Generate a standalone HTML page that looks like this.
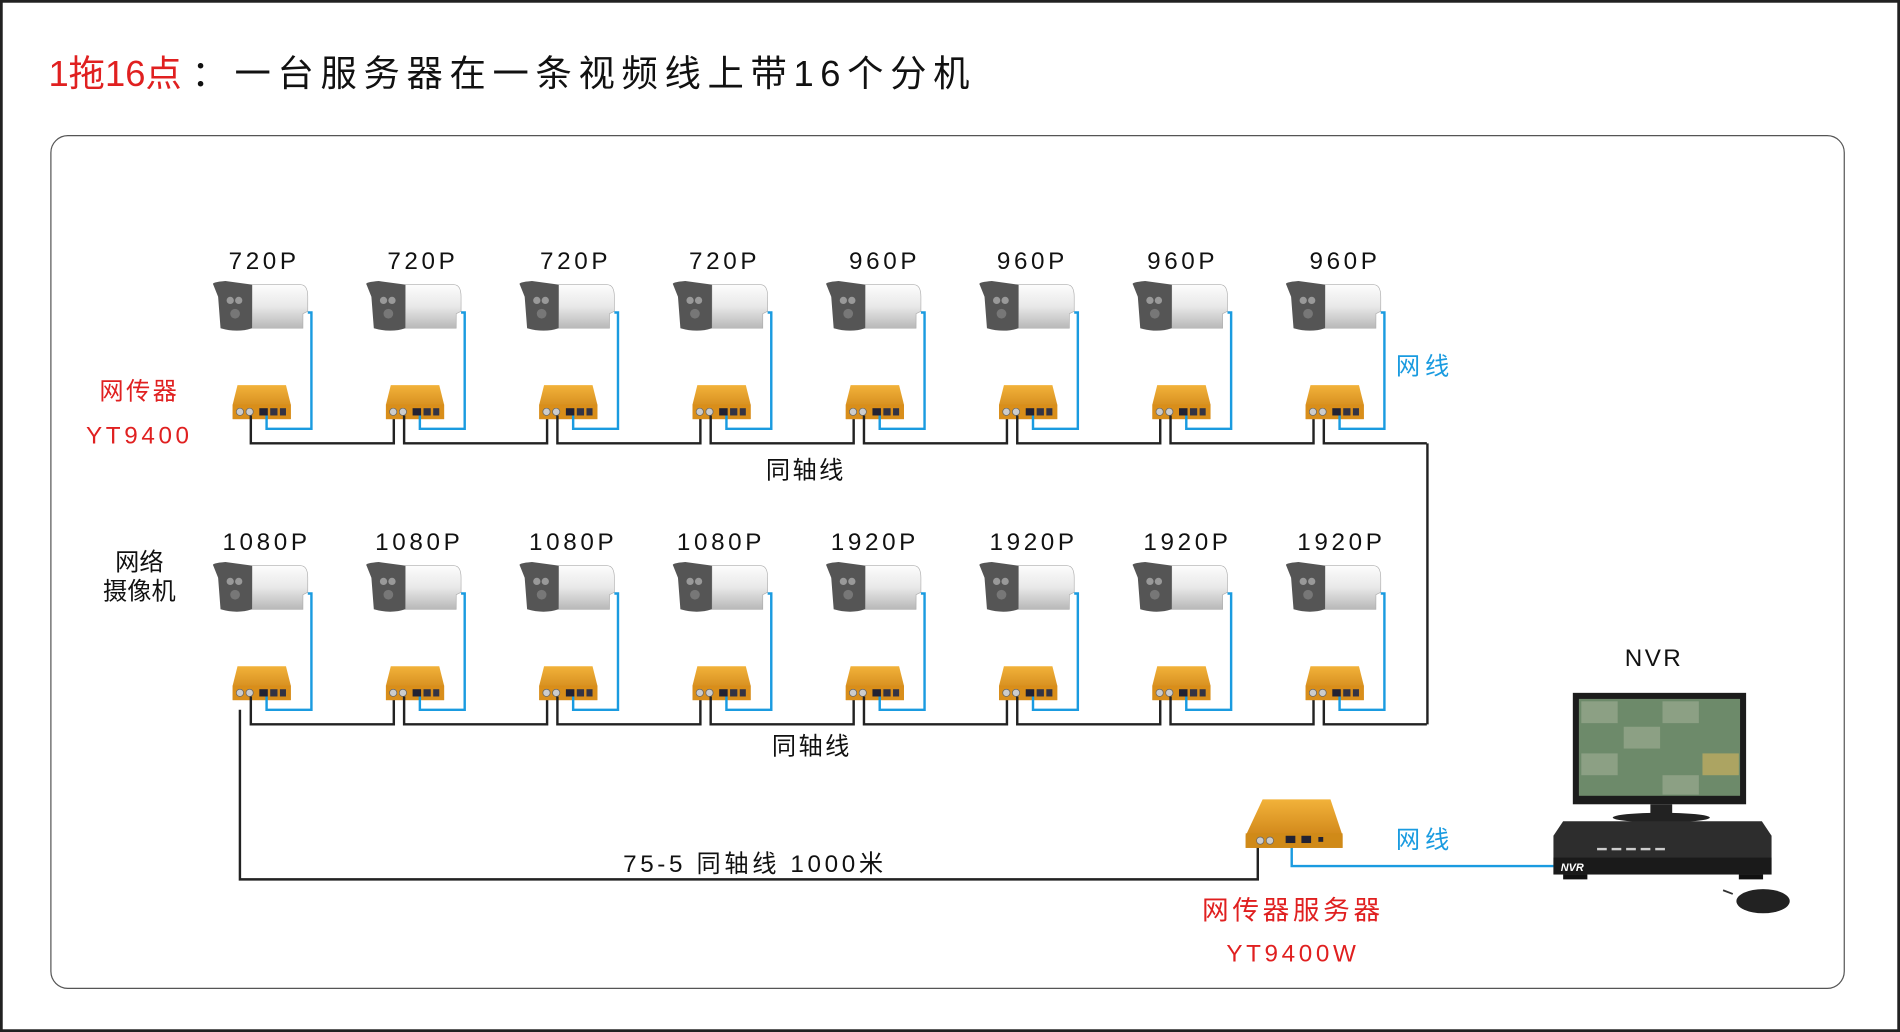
<!DOCTYPE html>
<html><head><meta charset="utf-8"><style>
html,body{margin:0;padding:0;background:#fff;}
svg{display:block;}
text{font-family:"Liberation Sans","Noto Sans CJK SC",sans-serif;}
</style></head><body>
<svg width="1900" height="1032" viewBox="0 0 1568 852" preserveAspectRatio="none" xmlns="http://www.w3.org/2000/svg">
<defs>
<linearGradient id="cam" x1="0" y1="0" x2="0" y2="1"><stop offset="0" stop-color="#fdfdfd"/><stop offset="0.5" stop-color="#e8e8e8"/><stop offset="1" stop-color="#b8b8b8"/></linearGradient>
<linearGradient id="gold" x1="0" y1="0" x2="0" y2="1"><stop offset="0" stop-color="#f2b23a"/><stop offset="1" stop-color="#c67a10"/></linearGradient>
<g id="camera">
<path d="M-8,-20 L32,-20 Q38,-20 38,-10 L38,2 L34,4 L34,16 L-8,16 Z" fill="url(#cam)" stroke="#aaa" stroke-width="0.5"/>
<path d="M-40,-20 Q-42,-22 -30,-23 L-8,-20 L-8,16 Q-20,20 -34,16 L-36,-10 Z" fill="#555"/>
<circle cx="-26" cy="-7" r="3" fill="#999"/><circle cx="-19" cy="-7" r="3" fill="#999"/><circle cx="-22" cy="4" r="4" fill="#777"/>
</g>
<g id="box">
<path d="M-20,-18 L20,-18 L24,-2 L24,10 L-24,10 L-24,-2 Z" fill="url(#gold)"/>
<rect x="-24" y="-2" width="48" height="12" fill="#d98e1a"/>
<circle cx="-18" cy="4" r="3" fill="#ccc" stroke="#666" stroke-width="0.6"/><circle cx="-10" cy="4" r="3" fill="#ccc" stroke="#666" stroke-width="0.6"/>
<rect x="-2" y="1" width="7" height="6" fill="#223"/><rect x="7" y="1" width="6" height="6" fill="#334"/><rect x="15" y="1" width="5" height="6" fill="#334"/>
</g>
</defs>
<rect x="1" y="1" width="1566" height="850" fill="#fff" stroke="#222" stroke-width="2.5"/>
<text x="40" y="71" font-size="30" fill="#e02020">1拖16点</text>
<text x="158" y="71" font-size="30" fill="#111" letter-spacing="5.5">：一台服务器在一条视频线上带16个分机</text>
<rect x="42" y="112" width="1480" height="704" rx="14" fill="none" stroke="#555" stroke-width="1"/>

<g font-size="20" fill="#111" text-anchor="middle" letter-spacing="3">
<text x="218" y="222">720P</text><text x="349" y="222">720P</text><text x="475" y="222">720P</text><text x="598" y="222">720P</text>
<text x="730" y="222">960P</text><text x="852" y="222">960P</text><text x="976" y="222">960P</text><text x="1110" y="222">960P</text>
<text x="220" y="454">1080P</text><text x="346" y="454">1080P</text><text x="473" y="454">1080P</text><text x="595" y="454">1080P</text>
<text x="722" y="454">1920P</text><text x="853" y="454">1920P</text><text x="980" y="454">1920P</text><text x="1107" y="454">1920P</text>
</g>

<g fill="none" stroke-width="2">
<path d="M1178,366 L1178,598" stroke="#222"/>
<path d="M198,586 L198,726 L1038,726 L1038,697" stroke="#222"/>
<path d="M1066,697 L1066,715 L1282,715" stroke="#1a9be0"/>
</g>

<g id="r1">
<g transform="translate(216,255)"><use href="#camera"/></g>
<g transform="translate(216,336)"><use href="#box"/></g>
<path d="M254,258 L257,258 L257,354 L220,354 L220,343" fill="none" stroke="#1a9be0" stroke-width="2"/>
<path d="M207,343 L207,366 L325,366 L325,343" fill="none" stroke="#222" stroke-width="2"/>
</g>
<g transform="translate(126.5,0)"><use href="#r1"/></g>
<g transform="translate(253,0)"><use href="#r1"/></g>
<g transform="translate(379.5,0)"><use href="#r1"/></g>
<g transform="translate(506,0)"><use href="#r1"/></g>
<g transform="translate(632.5,0)"><use href="#r1"/></g>
<g transform="translate(759,0)"><use href="#r1"/></g>
<g transform="translate(885.5,0)"><path d="M207,343 L207,366 L292,366" fill="none" stroke="#222" stroke-width="2"/>
<g transform="translate(216,255)"><use href="#camera"/></g>
<g transform="translate(216,336)"><use href="#box"/></g>
<path d="M254,258 L257,258 L257,354 L220,354 L220,343" fill="none" stroke="#1a9be0" stroke-width="2"/></g>

<g transform="translate(0,232)"><use href="#r1"/></g>
<g transform="translate(126.5,232)"><use href="#r1"/></g>
<g transform="translate(253,232)"><use href="#r1"/></g>
<g transform="translate(379.5,232)"><use href="#r1"/></g>
<g transform="translate(506,232)"><use href="#r1"/></g>
<g transform="translate(632.5,232)"><use href="#r1"/></g>
<g transform="translate(759,232)"><use href="#r1"/></g>
<g transform="translate(885.5,232)"><path d="M207,343 L207,366 L292,366" fill="none" stroke="#222" stroke-width="2"/>
<g transform="translate(216,255)"><use href="#camera"/></g>
<g transform="translate(216,336)"><use href="#box"/></g>
<path d="M254,258 L257,258 L257,354 L220,354 L220,343" fill="none" stroke="#1a9be0" stroke-width="2"/></g>

<g font-size="20" text-anchor="middle">
<text x="115" y="330" fill="#e02020" letter-spacing="2">网传器</text>
<text x="115" y="366" fill="#e02020" letter-spacing="3">YT9400</text>
<text x="115" y="471" fill="#111">网络</text>
<text x="115" y="495" fill="#111">摄像机</text>
<text x="1176" y="309" fill="#1a9be0" letter-spacing="4">网线</text>
<text x="665" y="395" fill="#111" letter-spacing="2">同轴线</text>
<text x="670" y="623" fill="#111" letter-spacing="2">同轴线</text>
<text x="623" y="720" fill="#111" letter-spacing="3">75-5 同轴线 1000米</text>
<text x="1176" y="700" fill="#1a9be0" letter-spacing="4">网线</text>
<text x="1365" y="550" fill="#111" letter-spacing="2">NVR</text>
<text x="1067" y="759" fill="#e02020" font-size="22" letter-spacing="3">网传器服务器</text>
<text x="1067" y="794" fill="#e02020" letter-spacing="3">YT9400W</text>
</g>

<!-- server -->
<path d="M1042,660 L1098,660 L1108,690 L1108,700 L1028,700 L1028,690 Z" fill="url(#gold)"/>
<rect x="1028" y="688" width="80" height="12" fill="#d08a18"/>
<circle cx="1040" cy="694" r="3" fill="#ccc" stroke="#666" stroke-width="0.6"/><circle cx="1048" cy="694" r="3" fill="#ccc" stroke="#666" stroke-width="0.6"/>
<rect x="1061" y="690" width="8" height="6" fill="#223"/><rect x="1074" y="690" width="8" height="6" fill="#223"/><rect x="1088" y="691" width="4" height="4" fill="#223"/>

<!-- NVR -->
<rect x="1298" y="572" width="143" height="92" fill="#1c1c1c"/>
<rect x="1303" y="577" width="133" height="80" fill="#6d8a6a"/>
<g fill="#9aaa90" opacity="0.7"><rect x="1305" y="579" width="30" height="18"/><rect x="1372" y="579" width="30" height="18"/><rect x="1340" y="600" width="30" height="18"/><rect x="1405" y="622" width="30" height="18" fill="#c8b060"/><rect x="1305" y="622" width="30" height="18"/><rect x="1372" y="640" width="30" height="16"/></g>
<rect x="1362" y="664" width="18" height="10" fill="#222"/>
<ellipse cx="1371" cy="675" rx="40" ry="4" fill="#222"/>
<path d="M1290,678 L1454,678 L1462,690 L1462,722 L1282,722 L1282,690 Z" fill="#2d2d2d"/>
<rect x="1282" y="708" width="180" height="14" fill="#1a1a1a"/>
<text x="1288" y="719" font-size="9" font-style="italic" font-weight="bold" fill="#fff">NVR</text>
<g fill="#ccc"><rect x="1318" y="700" width="8" height="2"/><rect x="1330" y="700" width="8" height="2"/><rect x="1342" y="700" width="8" height="2"/><rect x="1354" y="700" width="8" height="2"/><rect x="1366" y="700" width="8" height="2"/></g>
<rect x="1290" y="722" width="20" height="4" fill="#111"/><rect x="1435" y="722" width="20" height="4" fill="#111"/>
<ellipse cx="1455" cy="744" rx="22" ry="10" fill="#222"/>
<path d="M1430,738 L1422,735" stroke="#333" stroke-width="1.5"/>
</svg>
</body></html>
